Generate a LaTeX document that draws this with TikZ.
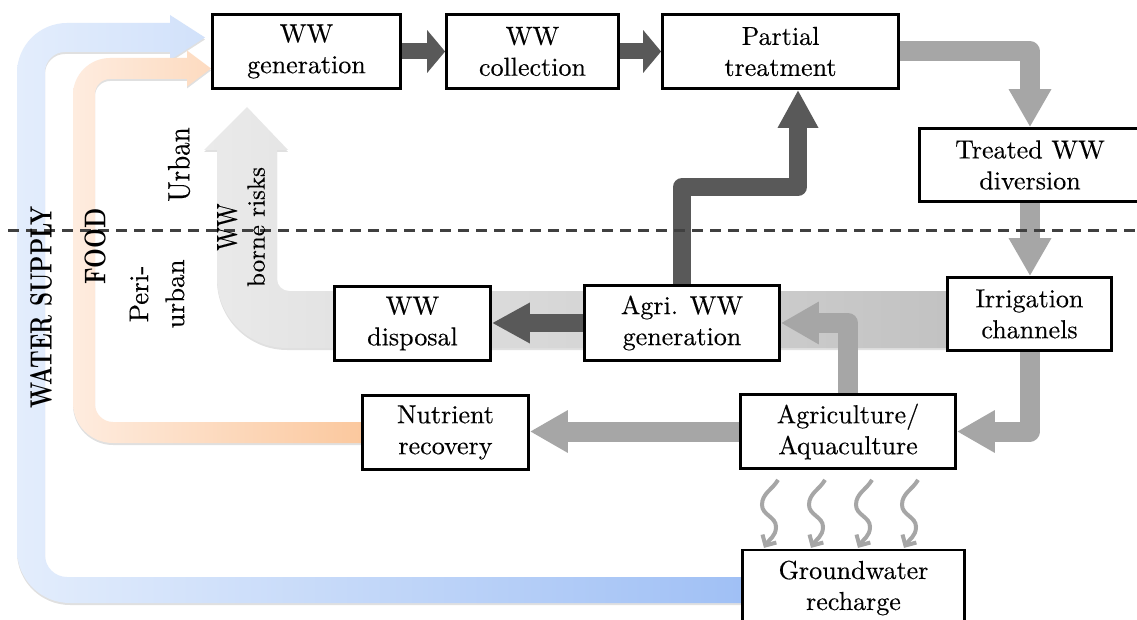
\documentclass[tikz,border=0pt]{standalone}
\usepackage{graphicx}
\usepackage{fontspec}
\newfontfamily\stagefont{lmroman10-regular.otf}[FakeBold=0.3]
\newfontfamily\labelbold{lmroman10-bold.otf}
\usetikzlibrary{arrows.meta,calc,backgrounds}

\definecolor{arrowdark}{RGB}{89,89,89}
\definecolor{arrowlight}{RGB}{166,166,166}
\definecolor{dashgray}{RGB}{64,64,64}
\definecolor{waterL}{RGB}{227,237,252}
\definecolor{waterR}{RGB}{160,192,245}
\definecolor{foodL}{RGB}{254,236,223}
\definecolor{foodR}{RGB}{251,200,158}
\definecolor{riskL}{RGB}{234,234,234}
\definecolor{riskR}{RGB}{194,194,194}

\tikzset{
  stage/.style={draw=black, line width=2.8pt, fill=white, inner sep=0pt, align=center,
    font=\stagefont\fontsize{26}{31}\selectfont},
  darkflow/.style={draw=arrowdark, line width=18pt, line join=round,
    -{Triangle[length=38pt,width=38pt]}},
  shortflow/.style={draw=arrowdark, line width=16pt,
    -{Triangle[length=18pt,width=42pt]}},
  lightflow/.style={draw=arrowlight, line width=20pt, line join=round,
    -{Triangle[length=38pt,width=40pt]}},
  seep/.style={draw=arrowlight, line width=4pt,
    -{Straight Barb[length=8pt,width=16pt]}},
  bandshadow/.style={preaction={fill=black, fill opacity=0.12,
    transform canvas={yshift=-2pt}}},
  sidelabel/.style={rotate=90, inner sep=0pt, align=center},
}

\begin{document}
\begin{tikzpicture}[x=1pt,y=1pt]
\useasboundingbox (0,0) rectangle (1137,-620);

% process stages
\node[stage, minimum width=188pt, minimum height=74pt] (wwgen) at (306.5,-51.5) {WW\\generation};
\node[stage, minimum width=172pt, minimum height=74pt] (wwcol) at (532.5,-51.5) {WW\\collection};
\node[stage, minimum width=236pt, minimum height=74pt] (ptreat) at (780.5,-51.5) {Partial\\treatment};
\node[stage, minimum width=221pt, minimum height=73pt] (treated) at (1030,-165) {Treated WW\\diversion};
\node[stage, minimum width=164pt, minimum height=73pt] (irrig) at (1029.5,-314) {Irrigation\\channels};
\node[stage, minimum width=195pt, minimum height=75pt] (agriww) at (682,-323) {Agri. WW\\generation};
\node[stage, minimum width=156pt, minimum height=74pt] (disposal) at (412.5,-323.5) {WW\\disposal};
\node[stage, minimum width=166pt, minimum height=74pt] (nutrient) at (445.5,-432.5) {Nutrient\\recovery};
\node[stage, minimum width=215pt, minimum height=74pt] (agri) at (848,-431.5) {Agriculture/\\Aquaculture};
\node[stage, minimum width=222pt, minimum height=76pt] (gw) at (853.5,-588) {Groundwater\\recharge};

\begin{scope}[on background layer]
  \fill[white] (0,0) rectangle (1137,-620);

  % water supply loop
  \shade[left color=waterL, right color=waterR, bandshadow]
    (741,-577) -- (67,-577)
    .. controls (54.85,-577) and (45,-567.15) .. (45,-555)
    -- (45,-72)
    .. controls (45,-60.95) and (53.95,-52) .. (65,-52)
    -- (170,-52) -- (170,-60) -- (205,-37.5) -- (170,-15) -- (170,-23)
    -- (67,-23)
    .. controls (39.4,-23) and (17,-45.4) .. (17,-73)
    -- (17,-550)
    .. controls (17,-579.3) and (40.7,-603) .. (70,-603)
    -- (741,-603) -- cycle;

  % food loop
  \shade[left color=foodL, right color=foodR, bandshadow]
    (361,-422) -- (113,-422)
    .. controls (103.06,-422) and (95,-413.94) .. (95,-404)
    -- (95,-94)
    .. controls (95,-85.72) and (101.72,-79) .. (110,-79)
    -- (187,-79) -- (187,-86.5) -- (211,-68.5) -- (187,-50.5) -- (187,-58)
    -- (110,-58)
    .. controls (89.6,-58) and (73,-74.6) .. (73,-95)
    -- (73,-403)
    .. controls (73,-425.1) and (90.9,-443) .. (113,-443)
    -- (361,-443) -- cycle;

  % wastewater borne risks band
  \shade[left color=riskL, right color=riskR, bandshadow]
    (946,-291) -- (289,-291)
    .. controls (282.4,-291) and (277,-285.6) .. (277,-279)
    -- (277,-150) -- (288,-150) -- (247,-107) -- (204,-150) -- (217,-150)
    -- (217,-278)
    .. controls (217,-316.6) and (248.4,-348) .. (287,-348)
    -- (946,-348) -- cycle;

  % flows
  \draw[shortflow] (wwgen.east) -- (wwcol.west);
  \draw[shortflow] (wwcol.east) -- (ptreat.west);
  \draw[lightflow] (ptreat.east) -| (treated.north);
  \draw[lightflow] (treated.south) -- (treated.south |- irrig.north);
  \draw[lightflow] (irrig.south) |- (agri.east);
  \draw[lightflow] (agri.north) |- (agriww.east);
  \draw[lightflow] (agri.west) -- (agri.west -| nutrient.east);
  \draw[darkflow] (agriww.west) -- (agriww.west -| disposal.east);
  \draw[darkflow] (agriww.north) -- ++(0,97) -| ($(ptreat.south)+(17.5,0)$);

  % seepage to groundwater
  \foreach \dx in {-70,-23,24,70} {
    \draw[seep] ($(agri.south)+(\dx,-10)$)
      to[out=-120,in=90] ++(-16,-25)
      to[out=-90,in=90] ++(14,-22)
      to[out=-90,in=60] ++(-12,-21);
  }
\end{scope}

% urban / peri-urban divide
\draw[dashgray, line width=3pt, dash pattern=on 11pt off 7pt] (8,-231) -- (1137,-231);

% side labels
\node[sidelabel, font=\labelbold\fontsize{22}{26}\selectfont] (water) at (41,-307.5) {\scalebox{1}[1.4]{WATER SUPPLY}};
\node[sidelabel, font=\labelbold\fontsize{23}{27}\selectfont] (food) at (95,-246.5) {\scalebox{1}[1.3]{FOOD}};
\node[sidelabel, font=\stagefont\fontsize{27}{32}\selectfont] (urban) at (179,-164.5) {\scalebox{1}[1.15]{Urban}};
\node[sidelabel, font=\stagefont\fontsize{27}{36}\selectfont] (periurban) at (157,-294) {Peri-\\urban};
\node[sidelabel, font=\stagefont\fontsize{25}{28}\selectfont] (risks) at (241,-227) {\scalebox{1}[1.25]{\fontsize{23}{28}\selectfont WW}\\borne risks};
\end{tikzpicture}
\end{document}
